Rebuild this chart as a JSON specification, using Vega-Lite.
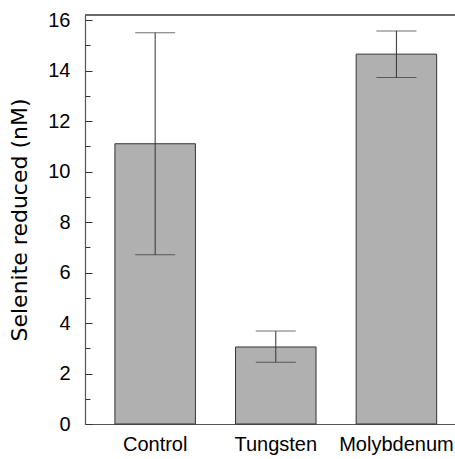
{
  "$schema": "https://vega.github.io/schema/vega-lite/v6.json",
  "width": 370,
  "height": 409,
  "autosize": {"type": "none"},
  "padding": {"left": 85, "top": 15, "right": 0, "bottom": 35},
  "background": "white",
  "config": {
    "view": {"stroke": null},
    "font": "Liberation Sans",
    "axis": {"domainColor": "#555", "tickColor": "#333", "labelColor": "black", "titleColor": "black", "grid": false, "labelFont": "Liberation Sans", "titleFont": "DejaVu Sans"}
  },
  "data": {
    "values": [
      {"group": "Control", "mean": 11.1, "low": 6.7, "high": 15.5},
      {"group": "Tungsten", "mean": 3.05, "low": 2.45, "high": 3.68},
      {"group": "Molybdenum", "mean": 14.65, "low": 13.72, "high": 15.57}
    ]
  },
  "resolve": {"axis": {"y": "independent"}},
  "layer": [
    {
      "mark": {"type": "bar", "fill": "#b0b0b0", "stroke": "#333", "strokeWidth": 1},
      "encoding": {
        "x": {
          "field": "group", "type": "nominal", "sort": null,
          "scale": {"paddingInner": 0.3325, "paddingOuter": 0.2, "align": 0.62},
          "axis": {"title": null, "ticks": false, "labelAngle": 0, "labelFontSize": 20, "labelPadding": 10, "domainWidth": 1.2}
        },
        "y": {
          "field": "mean", "type": "quantitative",
          "scale": {"domain": [0, 16.2], "nice": false, "zero": true},
          "axis": {
            "orient": "left",
            "title": "Selenite reduced (nM)",
            "titleFontSize": 22, "titleFontWeight": "normal", "titlePadding": 16,
            "values": [0,2,4,6,8,10,12,14,16],
            "labelFontSize": 20, "ticks": false, "labelPadding": 15,
            "domainWidth": 1.2
          }
        }
      }
    },
    {
      "mark": {"type": "rule", "color": "#333", "strokeWidth": 1},
      "encoding": {
        "x": {"field": "group", "type": "nominal", "sort": null},
        "y": {
          "field": "low", "type": "quantitative",
          "axis": {
            "orient": "right", "offset": -370, "title": null, "labels": false, "domain": false,
            "values": [0,1,2,3,4,5,6,7,8,9,10,11,12,13,14,15,16],
            "tickSize": {"condition": {"test": "datum.value % 2 == 0", "value": 7}, "value": 5},
            "tickWidth": 1
          }
        },
        "y2": {"field": "high"}
      }
    },
    {
      "mark": {"type": "tick", "color": "#333", "size": 40, "thickness": 1},
      "encoding": {
        "x": {"field": "group", "type": "nominal", "sort": null},
        "y": {"field": "low", "type": "quantitative", "axis": null}
      }
    },
    {
      "mark": {"type": "tick", "color": "#333", "size": 40, "thickness": 1},
      "encoding": {
        "x": {"field": "group", "type": "nominal", "sort": null},
        "y": {"field": "high", "type": "quantitative", "axis": null}
      }
    },
    {
      "mark": {"type": "rule", "color": "#555", "strokeWidth": 1.2},
      "encoding": {"y": {"datum": 16.2, "axis": null}}
    }
  ]
}
